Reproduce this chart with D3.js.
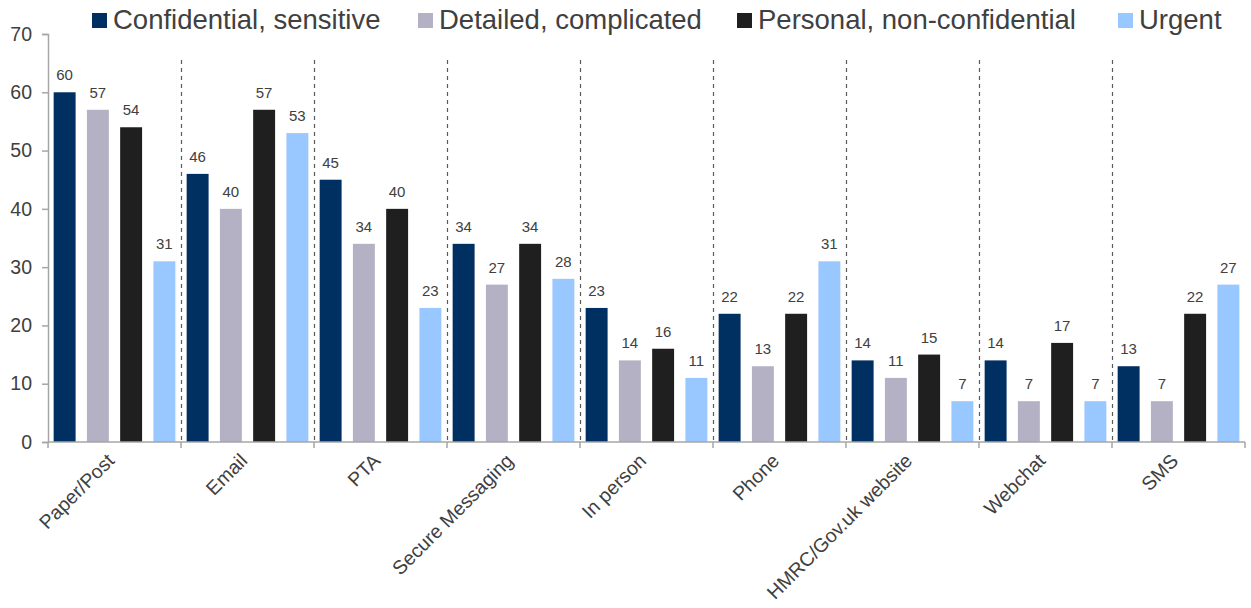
<!DOCTYPE html>
<html>
<head>
<meta charset="utf-8">
<script src="https://cdn.jsdelivr.net/npm/d3@7"></script>
<style>
  html, body { margin: 0; padding: 0; background: #fff; }
  svg { display: block; font-family: "Liberation Sans", Arial, sans-serif; }
</style>
</head>
<body>
<svg id="chart" width="1251" height="608"></svg>
<script>
// Channels and the four kinds of contact
const channels = ["Paper/Post", "Email", "PTA", "Secure Messaging", "In person", "Phone", "HMRC/Gov.uk website", "Webchat", "SMS"];
const seriesNames = ["Confidential, sensitive", "Detailed, complicated", "Personal, non-confidential", "Urgent"];
const confidential = [60, 46, 45, 34, 23, 22, 14, 14, 13];
const detailed     = [57, 40, 34, 27, 14, 13, 11, 7, 7];
const personal     = [54, 57, 40, 34, 16, 22, 15, 17, 22];
const urgent       = [31, 53, 23, 28, 11, 31, 7, 7, 27];
const yTicks = [0, 10, 20, 30, 40, 50, 60, 70];
const colors = ["#002f61", "#b4b1c4", "#1f1f1f", "#99c7ff"];

const seriesValues = [confidential, detailed, personal, urgent];

const svg = d3.select("#chart");
const plotLeft = 48, plotRight = 1245, plotTop = 34, plotBottom = 442;

const x0 = d3.scaleBand().domain(channels).range([plotLeft, plotRight]).paddingInner(0).paddingOuter(0);
const x1 = d3.scaleBand().domain(d3.range(4)).range([0, x0.bandwidth()]).paddingInner(0.34).paddingOuter(0.17);
const y = d3.scaleLinear().domain([0, 70]).range([plotBottom, plotTop]);

const textColor = "#404040";
const axisColor = "#a6a6a6";

// dashed separators between channels
svg.append("g").selectAll("line")
  .data(channels.slice(1))
  .join("line")
  .attr("x1", d => x0(d) + 0.5).attr("x2", d => x0(d) + 0.5)
  .attr("y1", 60).attr("y2", plotBottom)
  .attr("stroke", "#5a5a5a").attr("stroke-width", 1.2)
  .attr("stroke-dasharray", "4,4");

// bars
const groups = svg.append("g").selectAll("g")
  .data(channels)
  .join("g")
  .attr("transform", d => `translate(${x0(d)},0)`);

groups.selectAll("rect")
  .data((d, i) => seriesValues.map((vals, s) => ({ s, v: vals[i] })))
  .join("rect")
  .attr("x", d => x1(d.s))
  .attr("width", x1.bandwidth())
  .attr("y", d => y(d.v))
  .attr("height", d => y(0) - y(d.v))
  .attr("fill", d => colors[d.s]);

groups.selectAll("text")
  .data((d, i) => seriesValues.map((vals, s) => ({ s, v: vals[i] })))
  .join("text")
  .attr("x", d => x1(d.s) + x1.bandwidth() / 2)
  .attr("y", d => y(d.v) - 12)
  .attr("text-anchor", "middle")
  .attr("font-size", 15)
  .attr("fill", textColor)
  .text(d => d.v);

// y axis
const yAxis = svg.append("g")
  .attr("transform", `translate(${plotLeft},0)`)
  .call(d3.axisLeft(y).tickValues(yTicks).tickSize(6).tickPadding(10));
yAxis.select(".domain").attr("stroke", axisColor).attr("stroke-width", 1.5);
yAxis.selectAll(".tick line").attr("stroke", axisColor).attr("stroke-width", 1.5);
yAxis.selectAll(".tick text").attr("font-size", 19.5).attr("fill", textColor)
  .attr("font-family", "'Liberation Sans', Arial, sans-serif");

// x axis: baseline with ticks at the channel boundaries
const xa = svg.append("g");
xa.append("line")
  .attr("x1", plotLeft).attr("x2", plotRight)
  .attr("y1", plotBottom).attr("y2", plotBottom)
  .attr("stroke", axisColor).attr("stroke-width", 1.5);
xa.selectAll("line.tk")
  .data(channels.map(c => x0(c)).concat([plotRight]))
  .join("line")
  .attr("class", "tk")
  .attr("x1", d => d).attr("x2", d => d)
  .attr("y1", plotBottom).attr("y2", plotBottom + 6)
  .attr("stroke", axisColor).attr("stroke-width", 1.5);

xa.selectAll("text")
  .data(channels)
  .join("text")
  .attr("transform", d => `translate(${x0(d) + x0.bandwidth() / 2 + 1},${plotBottom + 20}) rotate(-45)`)
  .attr("text-anchor", "end")
  .attr("font-size", 19.5)
  .attr("fill", textColor)
  .text(d => d);

// legend
const legendX = [92, 418, 737, 1118];
const legend = svg.append("g").selectAll("g")
  .data(seriesNames)
  .join("g")
  .attr("transform", (d, i) => `translate(${legendX[i]},0)`);
legend.append("rect")
  .attr("x", 0).attr("y", 13).attr("width", 15).attr("height", 15)
  .attr("fill", (d, i) => colors[i]);
legend.append("text")
  .attr("x", 21).attr("y", 29)
  .attr("font-size", 27.5)
  .attr("fill", textColor)
  .text(d => d);
</script>
</body>
</html>
